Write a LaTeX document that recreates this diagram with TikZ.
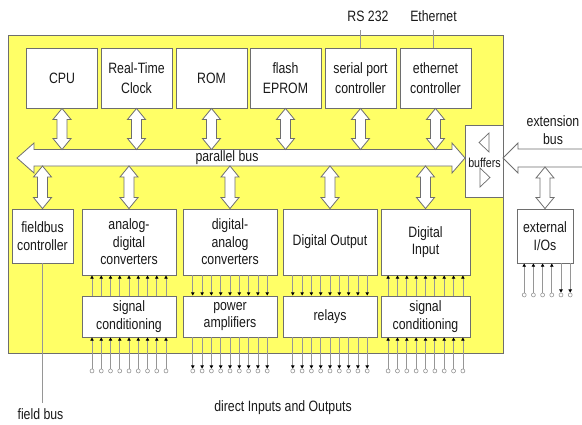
\documentclass[tikz,border=0pt]{standalone}
\usepackage{fontspec}
\setmainfont{Liberation Sans}[FakeStretch=0.82]
\usetikzlibrary{arrows.meta,calc}

\definecolor{panel}{RGB}{255,255,102}
\definecolor{edge}{RGB}{110,110,110}
\definecolor{wire}{RGB}{150,150,150}
\definecolor{ink}{RGB}{25,25,25}

% vertical two-headed bus link from #1 (upper end) down to #2 (lower end)
\newcommand\fatlink[2]{%
  \path[fat] let \p1=(#1), \p2=(#2) in
    (\x1,\y1) -- (\x1+9pt,\y1-11pt) -- (\x1+5pt,\y1-11pt) -- (\x1+5pt,\y2+11pt)
    -- (\x1+9pt,\y2+11pt) -- (\x1,\y2) -- (\x1-9pt,\y2+11pt) -- (\x1-5pt,\y2+11pt)
    -- (\x1-5pt,\y1-11pt) -- (\x1-9pt,\y1-11pt) -- cycle;}

\tikzset{
  fat/.style={draw=edge, fill=white, line width=0.8pt, line join=miter},
  unit/.style={draw=edge, fill=white, line width=0.9pt, inner sep=0pt, align=center,
    text=ink, font=\fontsize{15}{17.5}\selectfont},
  topunit/.style={unit, minimum width=71pt, minimum height=60pt,
    font=\fontsize{15}{20}\selectfont},
  lowunit/.style={unit, minimum width=94pt, minimum height=66pt},
  condunit/.style={unit, minimum width=94pt, minimum height=41pt},
  label/.style={text=ink, inner sep=0pt, align=center, font=\fontsize{15}{18}\selectfont},
  pinring/.style={circle, draw=wire, fill=white, line width=0.6pt, minimum size=4pt, inner sep=0pt},
  wire/.style={draw=wire, line width=0.8pt},
  sig/.style={wire, -{Triangle[length=3.2pt, width=3.4pt, color=black]}},
  gate/.style={draw=edge, line width=0.7pt, line join=miter},
}

\begin{document}
\begin{tikzpicture}[x=1pt, y=-1pt]
\useasboundingbox (0,0) rectangle (582,424);

% controller panel
\path[draw=edge, fill=panel, line width=0.9pt] (8,35) rectangle (503,353);

% top row of units
\node[topunit] (cpu)    at (62,78)    {CPU};
\node[topunit] (rtc)    at (136.5,78) {Real-Time\\Clock};
\node[topunit] (rom)    at (211.5,78) {ROM};
\node[topunit] (flash)  at (285.5,78) {flash\\EPROM};
\node[topunit] (serial) at (360.5,78) {serial port\\controller};
\node[topunit] (eth)    at (435.5,78) {ethernet\\controller};

% external port labels
\node[label] (rs)  at (368,16) {RS 232};
\node[label] (enet) at (433.5,16) {Ethernet};
\draw[wire] (serial.north) -- (serial.north |- 0,30);
\draw[wire] (eth.north -| enet.south) -- (enet.south |- 0,30);

% parallel bus
\coordinate (busN) at (0,149.5);
\coordinate (busS) at (0,166);
\path[fat] (17,158) -- (34,143) -- (34,149.5) -- (452,149.5) -- (452,143) -- (465,158)
  -- (452,173) -- (452,166) -- (34,166) -- (34,173) -- cycle;
\node[label] (busname) at (227,157.5) {parallel bus};

% buffers
\node[unit, minimum width=38pt, minimum height=72pt] (buf) at (484,161) {};
\node[label, font=\fontsize{13}{15}\selectfont] at (484.5,163) {buffers};
\path[gate] (489,133) -- (489,152) -- (479,142.5) -- cycle;
\path[gate] (480,168) -- (480,187) -- (490,177.5) -- cycle;

% extension bus
\path[fat] (503,158) -- (518,143) -- (518,149) -- (590,149) -- (590,167) -- (518,167)
  -- (518,173) -- cycle;
\node[label] (ext) at (553,130) {extension\\bus};
\coordinate (extS) at (0,167);

% links from the top units to the bus
\foreach \u in {cpu,rtc,rom,flash,serial,eth}
  \fatlink{\u.south}{\u.south |- busN};

% lower row of units
\node[unit, minimum width=61pt, minimum height=54pt] (fb) at (42.5,236) {fieldbus\\controller};
\node[lowunit] (adc) at (129,242)   {analog-\\digital\\converters};
\node[lowunit] (dac) at (230,242)   {digital-\\analog\\converters};
\node[lowunit] (dout) at (330,242)  {Digital Output};
\node[lowunit, minimum width=89pt] (din) at (425.5,242) {Digital\\Input};

\node[condunit] (sc1) at (129,316.5)   {signal\\conditioning};
\node[condunit] (pa)  at (230,316.5)   {power\\amplifiers};
\node[condunit] (rel) at (330,316.5)   {relays};
\node[condunit, minimum width=89pt] (sc2) at (425.5,316.5) {signal\\conditioning};

% external I/Os
\node[unit, minimum width=56pt, minimum height=54pt] (xio) at (545,236) {external\\I/Os};

% links from the bus to the lower units
\foreach \u in {fb,adc,dac,dout,din}
  \fatlink{\u.north |- busS}{\u.north};
\fatlink{xio.north |- extS}{xio.north};

% signal lines: inputs run upwards, outputs downwards
\foreach \k in {-4,...,4} {
  % analog inputs
  \draw[sig] ([xshift=\k*9.25pt]sc1.north) -- ([xshift=\k*9.25pt]adc.south);
  \node[pinring] (ai\k) at ([xshift=\k*9.25pt, yshift=-33.5pt]sc1.south) {};
  \draw[sig] (ai\k.north) -- (ai\k.north |- sc1.south);
  % analog outputs
  \draw[sig] ([xshift=\k*9.3pt]dac.south) -- ([xshift=\k*9.3pt]pa.north);
  \node[pinring] (ao\k) at ([xshift=\k*9.3pt, yshift=-33.5pt]pa.south) {};
  \draw[sig] (ao\k.north |- pa.south) -- (ao\k.north);
  % digital outputs
  \draw[sig] ([xshift=\k*9.3pt]dout.south) -- ([xshift=\k*9.3pt]rel.north);
  \node[pinring] (do\k) at ([xshift=\k*9.3pt, yshift=-33.5pt]rel.south) {};
  \draw[sig] (do\k.north |- rel.south) -- (do\k.north);
  % digital inputs
  \draw[sig] ([xshift=\k*9.35pt]sc2.north) -- ([xshift=\k*9.35pt]din.south);
  \node[pinring] (di\k) at ([xshift=\k*9.35pt, yshift=-33.5pt]sc2.south) {};
  \draw[sig] (di\k.north) -- (di\k.north |- sc2.south);
}

% external I/O lines
\foreach \k in {0,...,5}
  \node[pinring] (xp\k) at ([xshift=\k*9.2pt-20.8pt, yshift=-31.5pt]xio.south) {};
\foreach \k in {0,...,3}
  \draw[sig] (xp\k.north) -- (xp\k.north |- xio.south);
\foreach \k in {4,5}
  \draw[sig] (xp\k.north |- xio.south) -- (xp\k.north);

% field bus cable
\coordinate (fbend) at (42.5,403);
\draw[wire, line width=1.2pt] (fb.south) -- (fbend);
\node[label] (fbname) at (40.5,414.5) {field bus};

\node[label] (dio) at (283,408) {direct Inputs and Outputs};
\end{tikzpicture}
\end{document}
